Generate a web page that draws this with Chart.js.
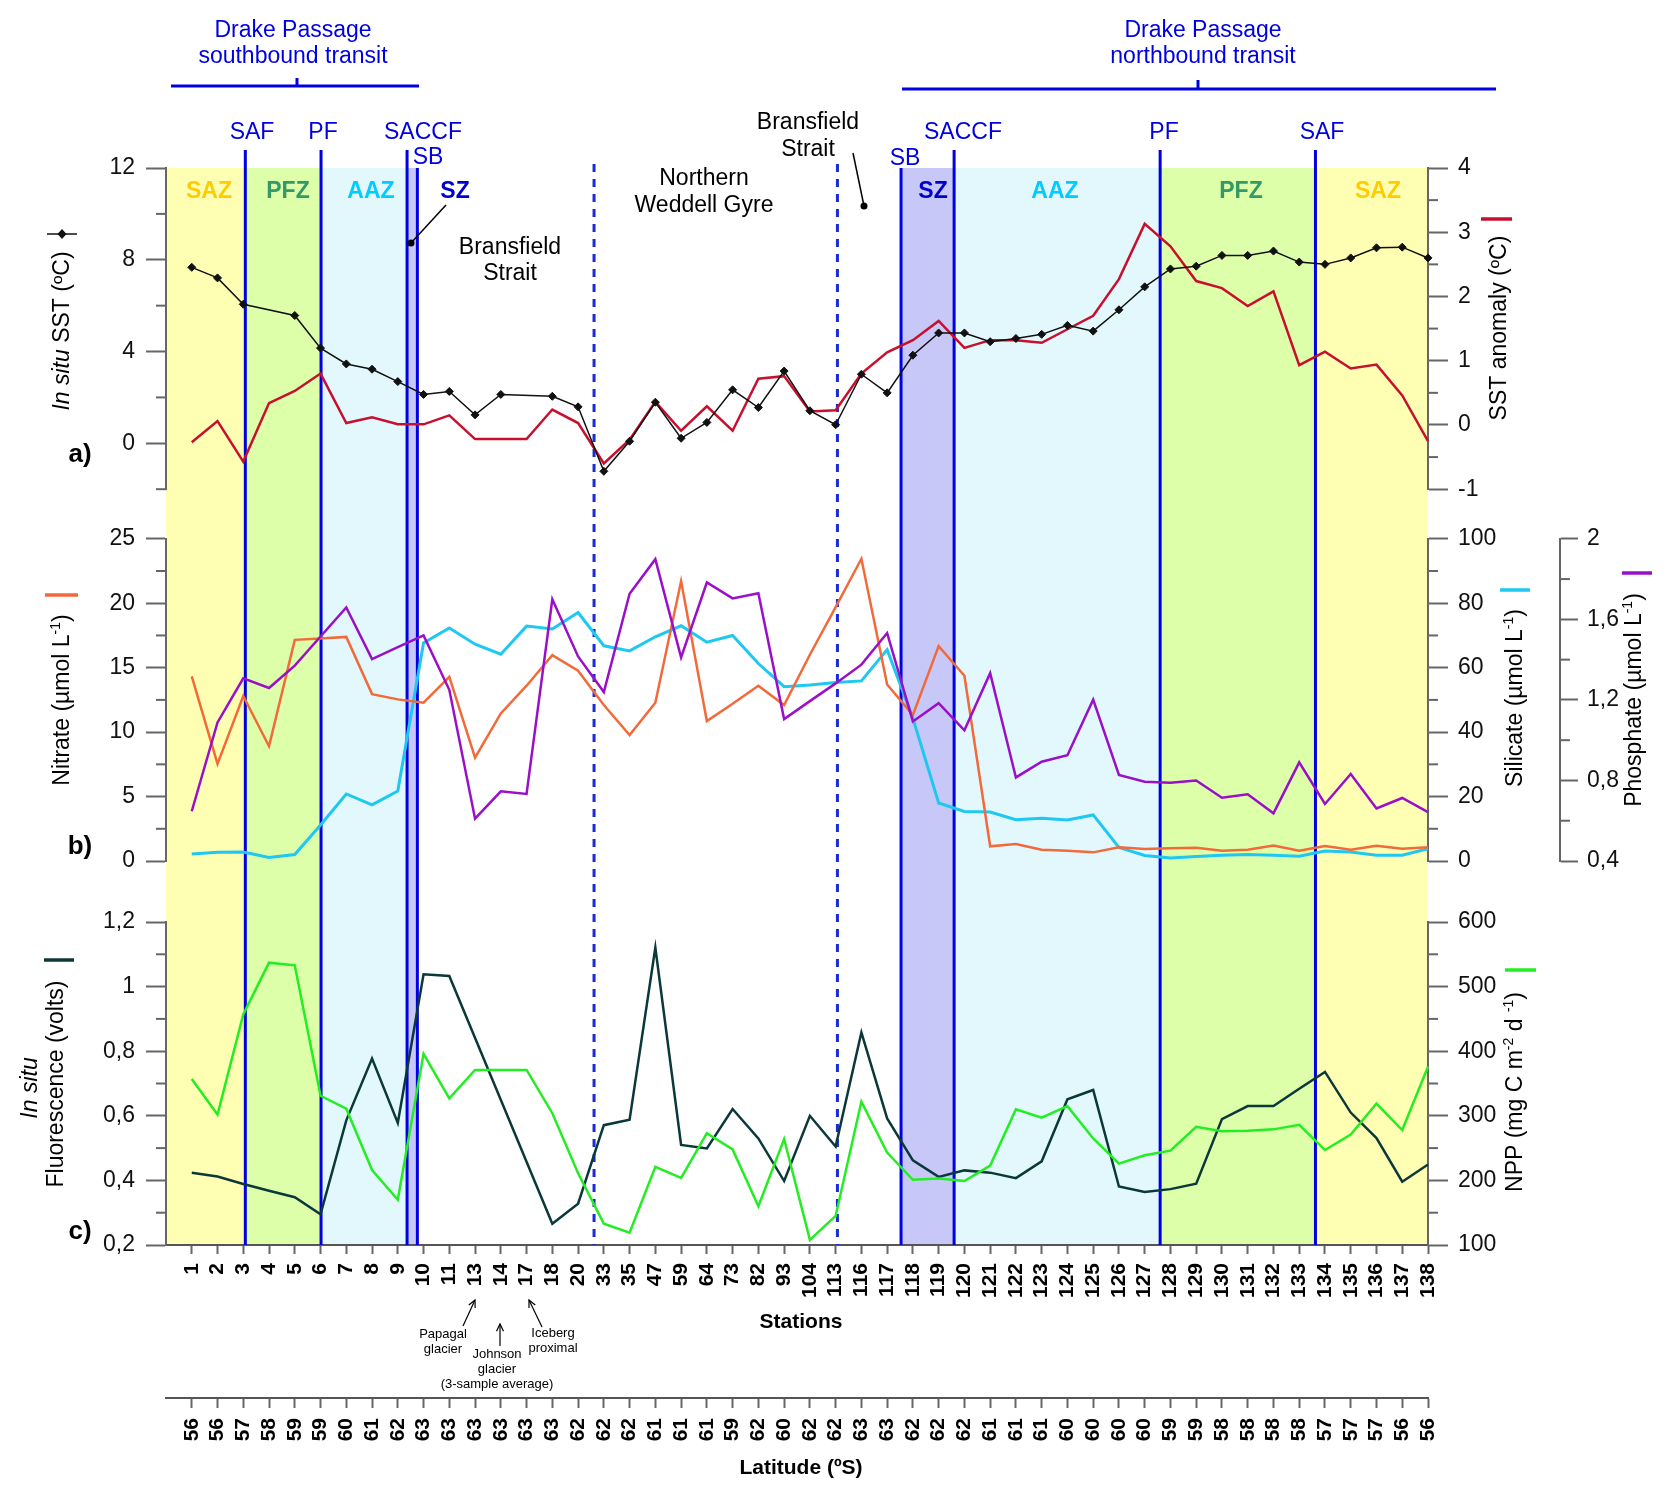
<!DOCTYPE html>
<html>
<head>
<meta charset="utf-8">
<script src="https://cdn.jsdelivr.net/npm/chart.js@4.4.1/dist/chart.umd.min.js"></script>
<style>
body { margin: 0; background: #fff; }
#wrap { position: relative; width: 1673px; height: 1494px; }
canvas { position: absolute; left: 0; }
</style>
</head>
<body>
<div id="wrap">
<canvas id="ca" width="1673" height="514" style="top:0px"></canvas>
<canvas id="cb" width="1673" height="376" style="top:514px"></canvas>
<canvas id="cc" width="1673" height="604" style="top:890px"></canvas>
</div>
<script>
// stations along the cruise track and their latitudes (ºS)
const stations = ['1','2','3','4','5','6','7','8','9','10','11','13','14','17','18','20','33','35','47','59','64','73','82','93','104','113','116','117','118','119','120','121','122','123','124','125','126','127','128','129','130','131','132','133','134','135','136','137','138'];
const latitudes = [56,56,57,58,59,59,60,61,62,63,63,63,63,63,63,62,62,62,61,61,61,59,62,60,62,62,63,63,62,62,62,61,61,61,60,60,60,60,59,59,58,58,58,58,57,57,57,56,56];

// a) in situ SST (ºC) and SST anomaly (ºC)
const sst = [7.67,7.21,6.06,null,5.57,4.15,3.46,3.23,2.69,2.13,2.26,1.24,2.13,null,2.05,1.59,-1.22,0.09,1.79,0.22,0.91,2.33,1.56,3.15,1.42,0.81,3.01,2.20,3.84,4.81,4.81,4.43,4.57,4.75,5.14,4.89,5.82,6.82,7.60,7.72,8.19,8.19,8.38,7.90,7.80,8.08,8.52,8.55,8.08];
const sstAnomaly = [-0.27,0.06,-0.57,0.34,0.53,0.80,0.03,0.12,0.01,0.01,0.15,-0.22,-0.22,-0.22,0.24,0.03,-0.60,-0.23,0.36,-0.09,0.29,-0.09,0.72,0.76,0.21,0.23,0.80,1.13,1.32,1.62,1.20,1.32,1.32,1.28,1.49,1.70,2.27,3.13,2.78,2.24,2.13,1.85,2.08,0.93,1.14,0.88,0.94,0.46,-0.25];

// b) nutrients (µmol L-1)
const nitrate = [14.32,7.53,12.80,8.90,17.16,17.26,17.39,12.95,12.54,12.28,14.29,8.02,11.45,13.6,15.97,14.76,12.10,9.78,12.28,21.72,10.86,12.2,13.60,12.10,16.0,19.7,23.45,13.70,11.33,16.67,14.37,1.14,1.32,0.88,0.80,0.67,1.06,0.93,0.98,1.03,0.80,0.88,1.21,0.80,1.16,0.88,1.19,0.95,1.06];
const silicate = [2.2,2.7,2.8,1.1,2.0,11.2,20.8,17.4,21.7,67.7,72.3,67.3,64.2,72.9,72.0,77.1,66.8,65.2,69.6,73.0,67.9,70.0,61.3,54.1,54.6,55.4,55.9,65.6,44.3,18.0,15.4,15.2,12.8,13.3,12.7,14.3,4.2,1.7,0.9,1.4,1.8,2.0,1.8,1.5,3.1,2.8,1.8,1.8,3.8];
const phosphate = [0.647,1.088,1.307,1.259,1.370,1.515,1.659,1.403,1.462,1.520,1.25,0.610,0.746,0.733,1.700,1.416,1.239,1.727,1.899,1.411,1.783,1.704,1.730,1.105,1.194,1.282,1.375,1.532,1.093,1.184,1.049,1.333,0.815,0.893,0.925,1.201,0.827,0.794,0.789,0.800,0.714,0.731,0.637,0.890,0.683,0.832,0.661,0.713,0.643];

// c) in situ fluorescence (volts) and NPP (mg C m-2 d-1)
const fluorescence = [0.424,0.412,0.389,0.368,0.348,0.295,0.586,0.777,0.578,1.038,1.033,null,null,null,0.266,0.328,0.571,0.588,1.121,0.510,0.499,0.621,0.530,0.398,0.600,0.505,0.858,0.592,0.462,0.411,0.431,0.424,0.407,0.459,0.651,0.680,0.381,0.364,0.373,0.390,0.590,0.630,0.630,0.684,0.736,0.610,0.531,0.396,0.449];
const npp = [357,302,457,537,533,331,311,216,170,396,327,371,371,371,304,211,133,119,221,204,273,248,160,264,108,145,322,243,201,203,199,223,310,297,315,265,226,239,246,283,276,277,279,286,247,271,319,278,376];

// fronts and zones, in station-index units (0 = station 1)
const frontPos = [2.08, 5.02, 8.36, 8.76, 27.54, 29.60, 37.60, 43.63];
const dashedPos = [15.62, 25.07];
const zoneNames = ['SAZ','PFZ','AAZ','SZ','SZ','AAZ','PFZ','SAZ'];
const zoneFrom = [-1, 2.08, 5.02, 8.36, 27.54, 29.60, 37.60, 43.63];
const zoneTo = [2.08, 5.02, 8.36, 8.76, 29.60, 37.60, 43.63, 48];

const F = "'Liberation Sans', Arial, Helvetica, sans-serif";
Chart.defaults.font.family = F;
const zoneFill = { SAZ: '#ffffb4', PFZ: '#ddffaa', AAZ: '#e2f8fc', SZ: '#c8c8f8' };
const BLUE = '#0000e0';
const xLabels = [''].concat(stations);

function xp(chart, i) { return chart.scales.x.getPixelForValue(i + 1); }

function seg(ctx, x0, y0, x1, y1) {
  ctx.beginPath(); ctx.moveTo(x0, y0); ctx.lineTo(x1, y1); ctx.stroke();
}
function txt(ctx, s, x, y, font, color, align) {
  ctx.font = font; ctx.fillStyle = color || '#000';
  ctx.textAlign = align || 'center'; ctx.textBaseline = 'middle';
  ctx.fillText(s, x, y);
}
// rotated title made of pieces with different fonts / offsets
function rich(ctx, parts, cx, cy) {
  let w = 0;
  parts.forEach(p => { ctx.font = p[1]; w += ctx.measureText(p[0]).width; });
  ctx.save();
  ctx.translate(cx, cy);
  ctx.rotate(-Math.PI / 2);
  ctx.textAlign = 'left'; ctx.textBaseline = 'middle'; ctx.fillStyle = '#000';
  let x = -w / 2;
  parts.forEach(p => {
    ctx.font = p[1];
    ctx.fillText(p[0], x, p[2] || 0);
    x += ctx.measureText(p[0]).width;
  });
  ctx.restore();
}
function dash(ctx, x0, x1, y, color, w) {
  ctx.save(); ctx.strokeStyle = color; ctx.lineWidth = w || 3.5; seg(ctx, x0, y, x1, y); ctx.restore();
}
function arrow(ctx, x0, y0, x1, y1) {
  seg(ctx, x0, y0, x1, y1);
  const an = Math.atan2(y1 - y0, x1 - x0), L = 8;
  ctx.beginPath();
  ctx.moveTo(x1 - L * Math.cos(an - 0.45), y1 - L * Math.sin(an - 0.45));
  ctx.lineTo(x1, y1);
  ctx.lineTo(x1 - L * Math.cos(an + 0.45), y1 - L * Math.sin(an + 0.45));
  ctx.stroke();
}
function pointer(ctx, x0, y0, x1, y1) {
  ctx.save(); ctx.strokeStyle = '#000'; ctx.fillStyle = '#000'; ctx.lineWidth = 1.5;
  seg(ctx, x0, y0, x1, y1);
  ctx.beginPath(); ctx.arc(x1, y1, 3.5, 0, Math.PI * 2); ctx.fill();
  ctx.restore();
}

// zone bands, front lines and minor ticks
function backdrop(fromArea, toArea, oy) {
  const frontTop = [150, 150, 150, 168, 168, 150, 150, 150];
  return {
    id: 'backdrop',
    beforeDraw(chart) {
      const ctx = chart.ctx, a = chart.chartArea;
      const top = fromArea ? a.top : 0;
      const bot = toArea ? a.bottom : chart.height;
      ctx.save();
      for (let k = 0; k < zoneNames.length; k++) {
        const x0 = xp(chart, zoneFrom[k]), x1 = xp(chart, zoneTo[k]);
        ctx.fillStyle = zoneFill[zoneNames[k]];
        ctx.fillRect(x0, top, x1 - x0, bot - top);
      }
      ctx.restore();
    },
    beforeDatasetsDraw(chart) {
      const ctx = chart.ctx, a = chart.chartArea;
      const bot = toArea ? a.bottom : chart.height;
      ctx.save();
      ctx.lineWidth = 3;
      ctx.strokeStyle = BLUE;
      frontPos.forEach((p, k) => {
        const x = xp(chart, p);
        seg(ctx, x, fromArea ? frontTop[k] - oy : 0, x, bot);
      });
      ctx.strokeStyle = '#1a2bd8';
      ctx.setLineDash([8, 7]);
      dashedPos.forEach(p => {
        const x = xp(chart, p);
        const t = fromArea ? 164 - oy : 0;
        ctx.lineDashOffset = (t + oy - 164);
        seg(ctx, x, t, x, bot);
      });
      ctx.setLineDash([]);
      ctx.strokeStyle = '#666';
      ctx.lineWidth = 2;
      Object.values(chart.scales).forEach(s => {
        if (s.axis !== 'y') return;
        const left = s.position === 'left';
        const x0 = left ? s.right : s.left;
        s.ticks.forEach(t => {
          if (t.label !== '') return;
          const y = s.getPixelForValue(t.value);
          seg(ctx, x0, y, x0 + (left ? -10 : 10), y);
        });
      });
      ctx.restore();
    }
  };
}

const tc = c => (c.tick && c.tick.label === '') ? 'rgba(0,0,0,0)' : '#666';
function yAxis(min, max, step, fmt, pos, width, weight, tickLen, pad) {
  return {
    type: 'linear', position: pos, min: min, max: max, weight: weight || 0,
    border: { display: true, color: '#666', width: 2 },
    grid: { drawOnChartArea: false, drawTicks: true, tickLength: tickLen || 20, tickWidth: 2, tickColor: tc },
    ticks: { stepSize: step, autoSkip: false, maxTicksLimit: 100, padding: pad || 10, color: '#111', font: { size: 23 }, callback: fmt },
    afterFit: s => { s.width = width; }
  };
}
function comma(v) { return String(v).replace('.', ','); }
function baseOpts(padTop, padBottom, scales) {
  return {
    responsive: false, animation: false, devicePixelRatio: 1, events: [],
    layout: { padding: { top: padTop, bottom: padBottom, left: 0, right: 0 } },
    plugins: { legend: { display: false }, tooltip: { enabled: false } },
    elements: { line: { tension: 0 }, point: { radius: 0 } },
    scales: scales
  };
}
const hiddenX = { type: 'category', display: false };
const R = '23px ' + F, B = 'bold 23px ' + F, I = 'italic 23px ' + F, S = '14px ' + F;

// ---------- panel a ----------
new Chart(document.getElementById('ca'), {
  type: 'line',
  data: {
    labels: xLabels,
    datasets: [
      { data: [null].concat(sst), yAxisID: 'y', borderColor: '#111', borderWidth: 1.5, spanGaps: true, clip: 8,
        pointStyle: 'rectRot', pointRadius: 4, pointBackgroundColor: '#111', pointBorderColor: '#111', pointBorderWidth: 1 },
      { data: [null].concat(sstAnomaly), yAxisID: 'y2', borderColor: '#c8102e', borderWidth: 2.5 }
    ]
  },
  options: baseOpts(168, 23, {
    x: hiddenX,
    y: yAxis(-2, 12, 2, v => (v % 4 === 0 ? String(v) : ''), 'left', 166, 0, 20, 11),
    y2: yAxis(-1, 4, 0.5, v => (Number.isInteger(v) ? String(v) : ''), 'right', 245, 0, 20, 10)
  }),
  plugins: [backdrop(true, false, 0), {
    id: 'annA',
    afterDraw(chart) {
      const ctx = chart.ctx;
      ctx.save();
      txt(ctx, 'Drake Passage', 293, 31, R, BLUE);
      txt(ctx, 'southbound transit', 293, 57, R, BLUE);
      txt(ctx, 'Drake Passage', 1203, 31, R, BLUE);
      txt(ctx, 'northbound transit', 1203, 57, R, BLUE);
      ctx.strokeStyle = BLUE; ctx.lineWidth = 3;
      seg(ctx, 171, 86, 419, 86); seg(ctx, 297, 78, 297, 86);
      seg(ctx, 902, 89, 1496, 89); seg(ctx, 1198, 80, 1198, 89);
      [['SAF', 252, 133], ['PF', 323, 133], ['SACCF', 423, 133], ['SB', 428, 158],
       ['SB', 905, 159], ['SACCF', 963, 133], ['PF', 1164, 133], ['SAF', 1322, 133]]
        .forEach(l => txt(ctx, l[0], l[1], l[2], R, BLUE));
      const zc = { SAZ: '#ffcc00', PFZ: '#339966', AAZ: '#00ccff', SZ: '#0000cc' };
      [['SAZ', 209], ['PFZ', 288], ['AAZ', 371], ['SZ', 455], ['SZ', 933], ['AAZ', 1055], ['PFZ', 1241], ['SAZ', 1378]]
        .forEach(l => txt(ctx, l[0], l[1], 192, B, zc[l[0]]));
      pointer(ctx, 446, 205, 411, 243);
      txt(ctx, 'Bransfield', 510, 248, R); txt(ctx, 'Strait', 510, 274, R);
      txt(ctx, 'Northern', 704, 179, R); txt(ctx, 'Weddell Gyre', 704, 206, R);
      txt(ctx, 'Bransfield', 808, 123, R); txt(ctx, 'Strait', 808, 150, R);
      pointer(ctx, 853, 153, 864, 206);
      txt(ctx, 'a)', 80, 455, 'bold 26px ' + F);
      rich(ctx, [['In situ', I], [' SST (ºC)', R]], 63, 331);
      ctx.strokeStyle = '#111'; ctx.lineWidth = 1.5;
      seg(ctx, 47, 234, 77, 234);
      ctx.fillStyle = '#111';
      ctx.beginPath(); ctx.moveTo(62, 229); ctx.lineTo(66.5, 234); ctx.lineTo(62, 239); ctx.lineTo(57.5, 234); ctx.closePath(); ctx.fill();
      rich(ctx, [['SST anomaly (ºC)', R]], 1500, 328);
      dash(ctx, 1481, 1512, 219, '#c8102e');
      ctx.restore();
    }
  }]
});

// ---------- panel b ----------
new Chart(document.getElementById('cb'), {
  type: 'line',
  data: {
    labels: xLabels,
    datasets: [
      { data: [null].concat(phosphate), yAxisID: 'y3', borderColor: '#9a10c8', borderWidth: 2.5 },
      { data: [null].concat(nitrate), yAxisID: 'y', borderColor: '#f26a3a', borderWidth: 2.5 },
      { data: [null].concat(silicate), yAxisID: 'y2', borderColor: '#1ec8f0', borderWidth: 3 }
    ]
  },
  options: baseOpts(24, 29, {
    x: hiddenX,
    y: yAxis(0, 25, 2.5, v => (v % 5 === 0 ? String(v) : ''), 'left', 166, 0, 20, 11),
    y2: yAxis(0, 100, 10, v => (v % 20 === 0 ? String(v) : ''), 'right', 132, 0, 20, 10),
    y3: yAxis(0.4, 2, 0.2, v => { const r = Math.round(v * 10); return r % 4 === 0 ? comma(r / 10) : ''; }, 'right', 113, 1, 18, 9)
  }),
  plugins: [backdrop(false, false, 514), {
    id: 'annB',
    afterDraw(chart) {
      const ctx = chart.ctx, oy = 514;
      ctx.save();
      txt(ctx, 'b)', 80, 847 - oy, 'bold 26px ' + F);
      rich(ctx, [['Nitrate (µmol L', R], ['-1', S, -7], [')', R]], 63, 700 - oy);
      dash(ctx, 45, 78, 595 - oy, '#f26a3a');
      rich(ctx, [['Silicate (µmol L', R], ['-1', S, -7], [')', R]], 1516, 698 - oy);
      dash(ctx, 1500, 1530, 590 - oy, '#1ec8f0');
      rich(ctx, [['Phosphate (µmol L', R], ['-1', S, -7], [')', R]], 1635, 700 - oy);
      dash(ctx, 1622, 1652, 573 - oy, '#9a10c8');
      ctx.restore();
    }
  }]
});

// ---------- panel c ----------
const xTicks = (len, pad, h) => ({
  border: { display: true, color: '#555', width: 2 },
  grid: { drawOnChartArea: false, drawTicks: true, tickLength: len, tickWidth: 2, tickColor: tc },
  ticks: { autoSkip: false, minRotation: 90, maxRotation: 90, padding: pad, color: '#000', font: { size: 21, weight: 'bold' } },
  afterFit: s => { s.height = h; }
});
new Chart(document.getElementById('cc'), {
  type: 'line',
  data: {
    labels: xLabels,
    datasets: [
      { data: [null].concat(npp), yAxisID: 'y2', borderColor: '#22ee22', borderWidth: 2.5 },
      { data: [null].concat(fluorescence), yAxisID: 'y', borderColor: '#0b3838', borderWidth: 2.5, spanGaps: true }
    ]
  },
  options: baseOpts(32, 0, {
    x: Object.assign({ type: 'category', position: 'bottom', weight: 0 }, xTicks(9, 9, 153)),
    x2: Object.assign({ type: 'category', position: 'bottom', weight: 1, labels: [''].concat(latitudes.map(String)) }, xTicks(10, 10, 96)),
    y: yAxis(0.2, 1.2, 0.1, v => { const r = Math.round(v * 10); return r % 2 === 0 ? comma(r / 10) : ''; }, 'left', 166, 0, 20, 11),
    y2: yAxis(100, 600, 50, v => (v % 100 === 0 ? String(v) : ''), 'right', 245, 0, 20, 10)
  }),
  plugins: [backdrop(false, true, 890), {
    id: 'annC',
    afterDraw(chart) {
      const ctx = chart.ctx, oy = 890;
      ctx.save();
      txt(ctx, 'c)', 80, 1232 - oy, 'bold 26px ' + F);
      rich(ctx, [['In situ', I]], 31, 1088 - oy);
      rich(ctx, [['Fluorescence (volts)', R]], 57, 1084 - oy);
      dash(ctx, 44, 74, 960 - oy, '#0b3838');
      rich(ctx, [['NPP (mg C m', R], ['-2', S, -7], [' d ', R], ['-1', S, -7], [')', R]], 1516, 1092 - oy);
      dash(ctx, 1505, 1536, 970 - oy, '#22ee22');
      txt(ctx, 'Stations', 801, 1322 - oy, 'bold 21px ' + F);
      txt(ctx, 'Latitude (ºS)', 801, 1468 - oy, 'bold 21px ' + F);
      const sm = '13px ' + F;
      txt(ctx, 'Papagal', 443, 1334 - oy, sm); txt(ctx, 'glacier', 443, 1349 - oy, sm);
      txt(ctx, 'Johnson', 497, 1354 - oy, sm); txt(ctx, 'glacier', 497, 1369 - oy, sm);
      txt(ctx, '(3-sample average)', 497, 1384 - oy, sm);
      txt(ctx, 'Iceberg', 553, 1333 - oy, sm); txt(ctx, 'proximal', 553, 1348 - oy, sm);
      ctx.strokeStyle = '#000'; ctx.lineWidth = 1.2;
      arrow(ctx, 463, 1326 - oy, 475, 1300 - oy);
      arrow(ctx, 500, 1346 - oy, 500, 1324 - oy);
      arrow(ctx, 542, 1327 - oy, 529, 1300 - oy);
      ctx.restore();
    }
  }]
});
</script>
</body>
</html>
